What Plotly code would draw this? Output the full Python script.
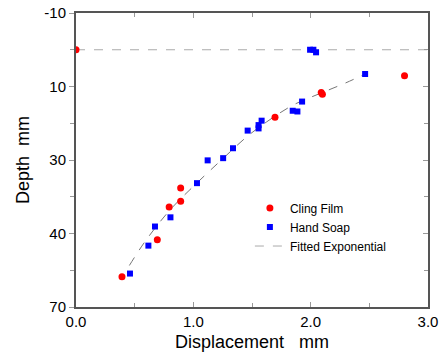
import plotly.graph_objects as go

# Data
cling_x = [0.0, 0.392, 0.693, 0.794, 0.892, 0.892, 1.696, 2.09, 2.10, 2.80]
cling_y = [0.0, 61.8, 51.7, 42.8, 41.2, 37.6, 18.4, 11.6, 12.1, 7.1]

soap_x = [0.460, 0.617, 0.673, 0.805, 1.031, 1.122, 1.254, 1.338, 1.463, 1.556, 1.556,
          1.582, 1.847, 1.887, 1.927, 1.995, 2.023, 2.046, 2.464]
soap_y = [60.9, 53.3, 48.1, 45.6, 36.3, 30.1, 29.5, 26.8, 22.0, 21.4, 20.5,
          19.3, 16.6, 16.8, 14.1, 0.0, 0.0, 0.7, 6.6]

fit_x = [0.455, 0.588, 0.801, 1.029, 1.256, 1.455, 1.626, 1.853, 2.08, 2.30, 2.464]
fit_y = [58.7, 52.2, 43.6, 36.3, 29.5, 23.7, 19.6, 15.0, 11.9, 9.0, 6.6]

surface_x = [0.0, 3.0]
surface_y = [0.0, 0.0]

y_tickvals = [-10, 10, 30, 50, 70]
y_ticktext = ["-10", "10", "30", "40", "70"]
y_minorvals = [0, 20, 40, 60]

FONT = "Liberation Sans, Arial, sans-serif"

fig = go.Figure()
fig.add_trace(go.Scatter(x=surface_x, y=surface_y, mode="lines",
                         line=dict(color="#aaaaaa", width=1, dash="dash"),
                         name="Fitted Exponential", legendrank=3))
fig.add_trace(go.Scatter(x=fit_x, y=fit_y, mode="lines", line_shape="spline",
                         line=dict(color="#777777", width=1, dash="dash"),
                         showlegend=False))
fig.add_trace(go.Scatter(x=cling_x, y=cling_y, mode="markers",
                         marker=dict(symbol="circle", size=7, color="#ff0000"),
                         name="Cling Film", legendrank=1))
fig.add_trace(go.Scatter(x=soap_x, y=soap_y, mode="markers",
                         marker=dict(symbol="square", size=6, color="#0000ff"),
                         name="Hand Soap", legendrank=2))
# invisible trace to carry the right-hand axis
fig.add_trace(go.Scatter(x=[0], y=[0], yaxis="y2", mode="markers",
                         marker=dict(opacity=0), showlegend=False, hoverinfo="skip"))

fig.update_layout(
    width=446, height=356,
    margin=dict(l=76, r=18, t=13, b=49),
    paper_bgcolor="white", plot_bgcolor="white",
    font=dict(family=FONT, size=15, color="black"),
    showlegend=True,
    legend=dict(x=0.494, y=0.386, xanchor="left", yanchor="top",
                bgcolor="rgba(0,0,0,0)", font=dict(size=12),
                itemwidth=30, tracegroupgap=0),
    xaxis=dict(range=[0, 3], tickvals=[0, 1, 2, 3], ticktext=["0.0", "1.0", "2.0", "3.0"],
               ticks="inside", ticklen=5, tickcolor="#999999", automargin=False,
               minor=dict(tickvals=[0.5, 1.5, 2.5], ticks="inside", ticklen=4, tickcolor="#999999"),
               showline=True, linecolor="#555555", linewidth=2, mirror="ticks",
               showgrid=False, zeroline=False,
               title=dict(text="Displacement\u00a0\u00a0\u00a0mm", standoff=6)),
    yaxis=dict(range=[70, -10], tickvals=y_tickvals, ticktext=y_ticktext,
               ticks="outside", ticklen=5, tickcolor="#999999", automargin=False,
               minor=dict(tickvals=y_minorvals, ticks="outside", ticklen=4, tickcolor="#999999"),
               showline=True, linecolor="#555555", linewidth=2, mirror=True,
               showgrid=False, zeroline=False,
               title=dict(text="Depth\u00a0\u00a0mm", standoff=10)),
    yaxis2=dict(range=[70, -10], overlaying="y", side="right", tickvals=y_tickvals,
                showticklabels=False, ticks="inside", ticklen=5, tickcolor="#999999",
                automargin=False,
                minor=dict(tickvals=y_minorvals, ticks="inside", ticklen=4, tickcolor="#999999"),
                showline=False, showgrid=False, zeroline=False),
)

fig.write_html("out.html", config={"displayModeBar": False},
               post_script="document.body.style.margin='0';document.body.style.padding='0';")
